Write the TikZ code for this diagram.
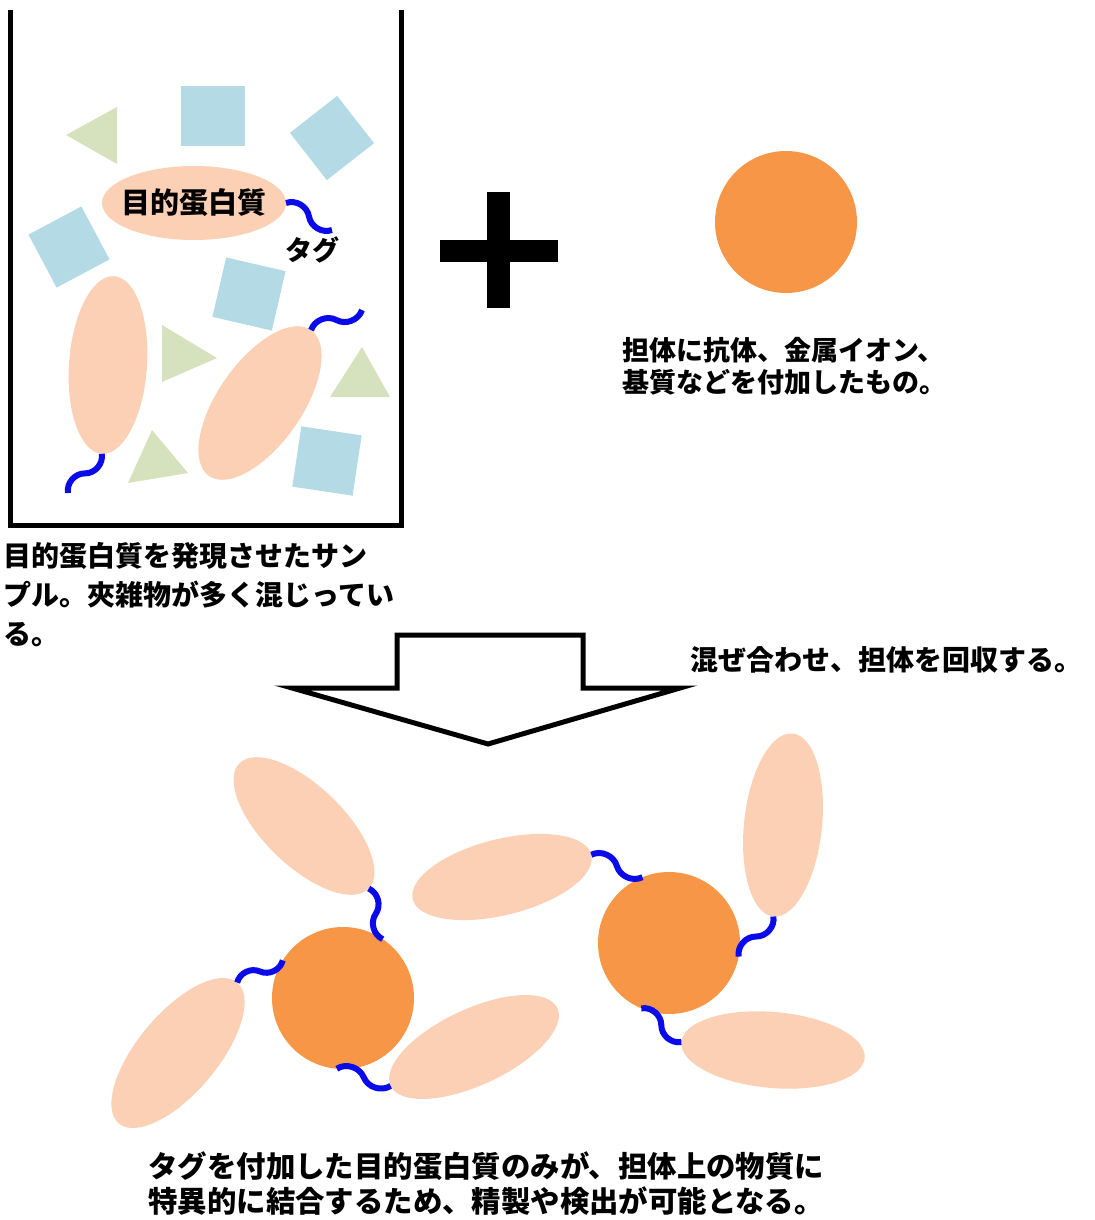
\documentclass[tikz,border=0pt]{standalone}
\usepackage{fontspec}
\newfontfamily\jpfont{Noto Sans CJK JP}
\usetikzlibrary{shapes.geometric,calc}

\definecolor{peach}{RGB}{252,208,180}
\definecolor{carrier}{RGB}{246,150,70}
\definecolor{debrisblue}{RGB}{180,219,229}
\definecolor{debrisgreen}{RGB}{213,226,189}
\definecolor{tagblue}{RGB}{10,10,235}

\tikzset{
  prot/.style={ellipse, fill=peach, inner sep=0pt, outer sep=0pt},
  bead/.style={circle, fill=carrier, minimum size=71pt, inner sep=0pt, outer sep=0pt},
  sq/.style={rectangle, fill=debrisblue, minimum size=30pt, inner sep=0pt},
  tri/.style={fill=debrisgreen},
  tagline/.style={draw=tagblue, line width=3pt},
  wall/.style={line width=2.5pt},
  caption/.style={font=\jpfont\bfseries\fontsize{14}{19.5}\selectfont, align=left, inner sep=0pt},
}
% wavy tag between two anchors
\newcommand{\tagS}[3][50]{\draw[tagline] (#2) to[bend left=#1] ($(#2)!0.5!(#3)$) to[bend right=#1] (#3);}

\begin{document}
\begin{tikzpicture}[x=0.5pt,y=-0.5pt]
  \useasboundingbox (0,0) rectangle (1095,1220);

  % sample tube
  \draw[wall] (10,10) -- (10,525) -- (401,525) -- (401,10);
  \fill[tri] (66,135) -- (117,107) -- (117,164) -- cycle;
  \fill[tri] (162,325) -- (217,358) -- (162,382) -- cycle;
  \fill[tri] (362,347) -- (390,397) -- (330,397) -- cycle;
  \fill[tri] (152,430) -- (188,473) -- (128,483) -- cycle;
  \node[sq, minimum width=32pt] (d1) at (213,116) {};
  \node[sq, rotate=38] (d2) at (332,138) {};
  \node[sq, rotate=28] (d3) at (69,247) {};
  \node[sq, minimum size=30.5pt, rotate=-13] (d4) at (249,294) {};
  \node[sq, minimum size=30.5pt, rotate=-8.5] (d5) at (327,461) {};

  \node[prot, minimum width=92pt, minimum height=37pt] (p1) at (194,203) {};
  \node[font=\jpfont\bfseries\fontsize{14.5}{17}\selectfont] (p1text) at (p1) {目的蛋白質};
  \node[prot, minimum width=89pt, minimum height=39pt, rotate=86] (p2) at (108,365) {};
  \node[prot, minimum width=89pt, minimum height=42pt, rotate=55] (p3) at (260,403) {};
  \coordinate (p1end) at (332,230);
  \coordinate (p2end) at (68,493);
  \coordinate (p3end) at (362,310);
  \tagS{p1.east}{p1end}
  \tagS{p2.west}{p2end}
  \tagS{p3.east}{p3end}
  \node[font=\jpfont\bfseries\fontsize{13.5}{15}\selectfont] (taglabel) at (312,250) {タグ};

  \node[caption, anchor=north west] (sample) at (3,542) {目的蛋白質を発現させたサン\\プル。夾雑物が多く混じってい\\る。};

  % plus and carrier
  \fill (440,240) rectangle (558,262);
  \fill (487,192) rectangle (510,308);
  \node[bead] (bead) at (786,222) {};
  \node[caption, font=\jpfont\bfseries\fontsize{13.5}{16}\selectfont, anchor=north west] (beadtext) at (622,337) {担体に抗体、金属イオン、\\基質などを付加したもの。};

  % arrow
  \draw[wall, line join=miter] (397,635) -- (583,635) -- (583,688) -- (680,688) -- (488,744) -- (292,688) -- (397,688) -- cycle;
  \node[caption, anchor=west] (mix) at (690,660) {混ぜ合わせ、担体を回収する。};

  % bound proteins
  \node[prot, minimum width=90pt, minimum height=40pt, rotate=-44] (e1) at (304,826) {};
  \node[prot, minimum width=92pt, minimum height=38pt, rotate=14] (e2) at (502,877) {};
  \node[prot, minimum width=92pt, minimum height=40pt, rotate=50] (e3) at (178,1053) {};
  \node[prot, minimum width=92pt, minimum height=38pt, rotate=25] (e4) at (474,1047) {};
  \node[prot, minimum width=92pt, minimum height=39pt, rotate=84] (e5) at (783,825) {};
  \node[prot, minimum width=92pt, minimum height=38pt, rotate=-5] (e6) at (773,1050) {};
  \node[bead] (cA) at (343,998) {};
  \node[bead] (cB) at (669,943) {};
  \tagS{e1.east}{cA.56}
  \tagS{e3.east}{cA.148}
  \tagS{e4.west}{cA.265}
  \tagS{e2.east}{cB.112}
  \tagS{e5.west}{cB.349}
  \tagS{e6.west}{cB.247}

  \node[caption, font=\jpfont\bfseries\fontsize{14.7}{17.5}\selectfont, anchor=north west] (result) at (148,1151) {タグを付加した目的蛋白質のみが、担体上の物質に\\特異的に結合するため、精製や検出が可能となる。};
\end{tikzpicture}
\end{document}
